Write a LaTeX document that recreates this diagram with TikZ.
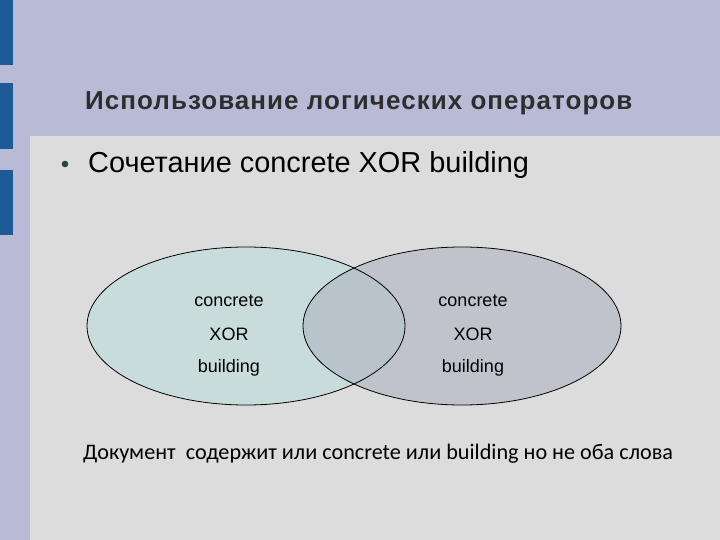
\documentclass[tikz,border=0pt]{standalone}
\usepackage{fontspec}
\setmainfont{Liberation Sans}
\newfontfamily\bodyfont{Carlito}
\newfontfamily\titlefont[LetterSpace=4]{Liberation Sans}
\definecolor{bglav}{HTML}{B9BBD6}
\definecolor{panel}{HTML}{DCDCDC}
\definecolor{barblue}{HTML}{1E5A96}
\definecolor{leftfill}{HTML}{C9DCDC}
\definecolor{rightfill}{HTML}{AEB3C0}
\definecolor{titlegray}{HTML}{2E2E2E}
\definecolor{bulletgreen}{HTML}{1F4A3A}
\tikzset{
  bar/.style={fill=barblue, draw=none},
  setell/.style={draw=black, line width=0.8pt},
  lbl/.style={font=\fontsize{18}{18}\selectfont, anchor=center, inner sep=0pt},
}
\begin{document}
\begin{tikzpicture}[x=1pt,y=-1pt]
\useasboundingbox (0,0) rectangle (720,540);
\fill[bglav] (0,0) rectangle (720,540);
\fill[panel] (30,136) rectangle (720,540);
\fill[bar] (0,0) rectangle (13,65);
\fill[bar] (0,83) rectangle (13,149);
\fill[bar] (0,170) rectangle (13,235);
\node[anchor=base west, inner sep=0pt, text=titlegray, font=\titlefont\bfseries\fontsize{26}{26}\selectfont] (title) at (85,110) {Использование логических операторов};
\fill[bulletgreen] (65,164) circle (3.3);
\node[anchor=base west, inner sep=0pt, font=\fontsize{28.9}{29}\selectfont] (bullet) at (88,173) {Сочетание concrete XOR building};
\fill[leftfill] (246,326) ellipse (159 and 79);
\fill[rightfill, fill opacity=0.6] (462,326) ellipse (159 and 79);
\draw[setell] (246,326) ellipse (159 and 79);
\draw[setell] (462,326) ellipse (159 and 79);
\node[lbl] (lc) at (229,301) {concrete};
\node[lbl] (lx) at (229,334) {XOR};
\node[lbl] (lb) at (229,368) {building};
\node[lbl] (rc) at (473,301) {concrete};
\node[lbl] (rx) at (473,334) {XOR};
\node[lbl] (rb) at (473,368) {building};
\node[anchor=base west, inner sep=0pt, font=\bodyfont\fontsize{22.2}{22}\selectfont] (note) at (83,459) {Документ\ \ содержит или concrete или building но не оба слова};
\end{tikzpicture}
\end{document}
